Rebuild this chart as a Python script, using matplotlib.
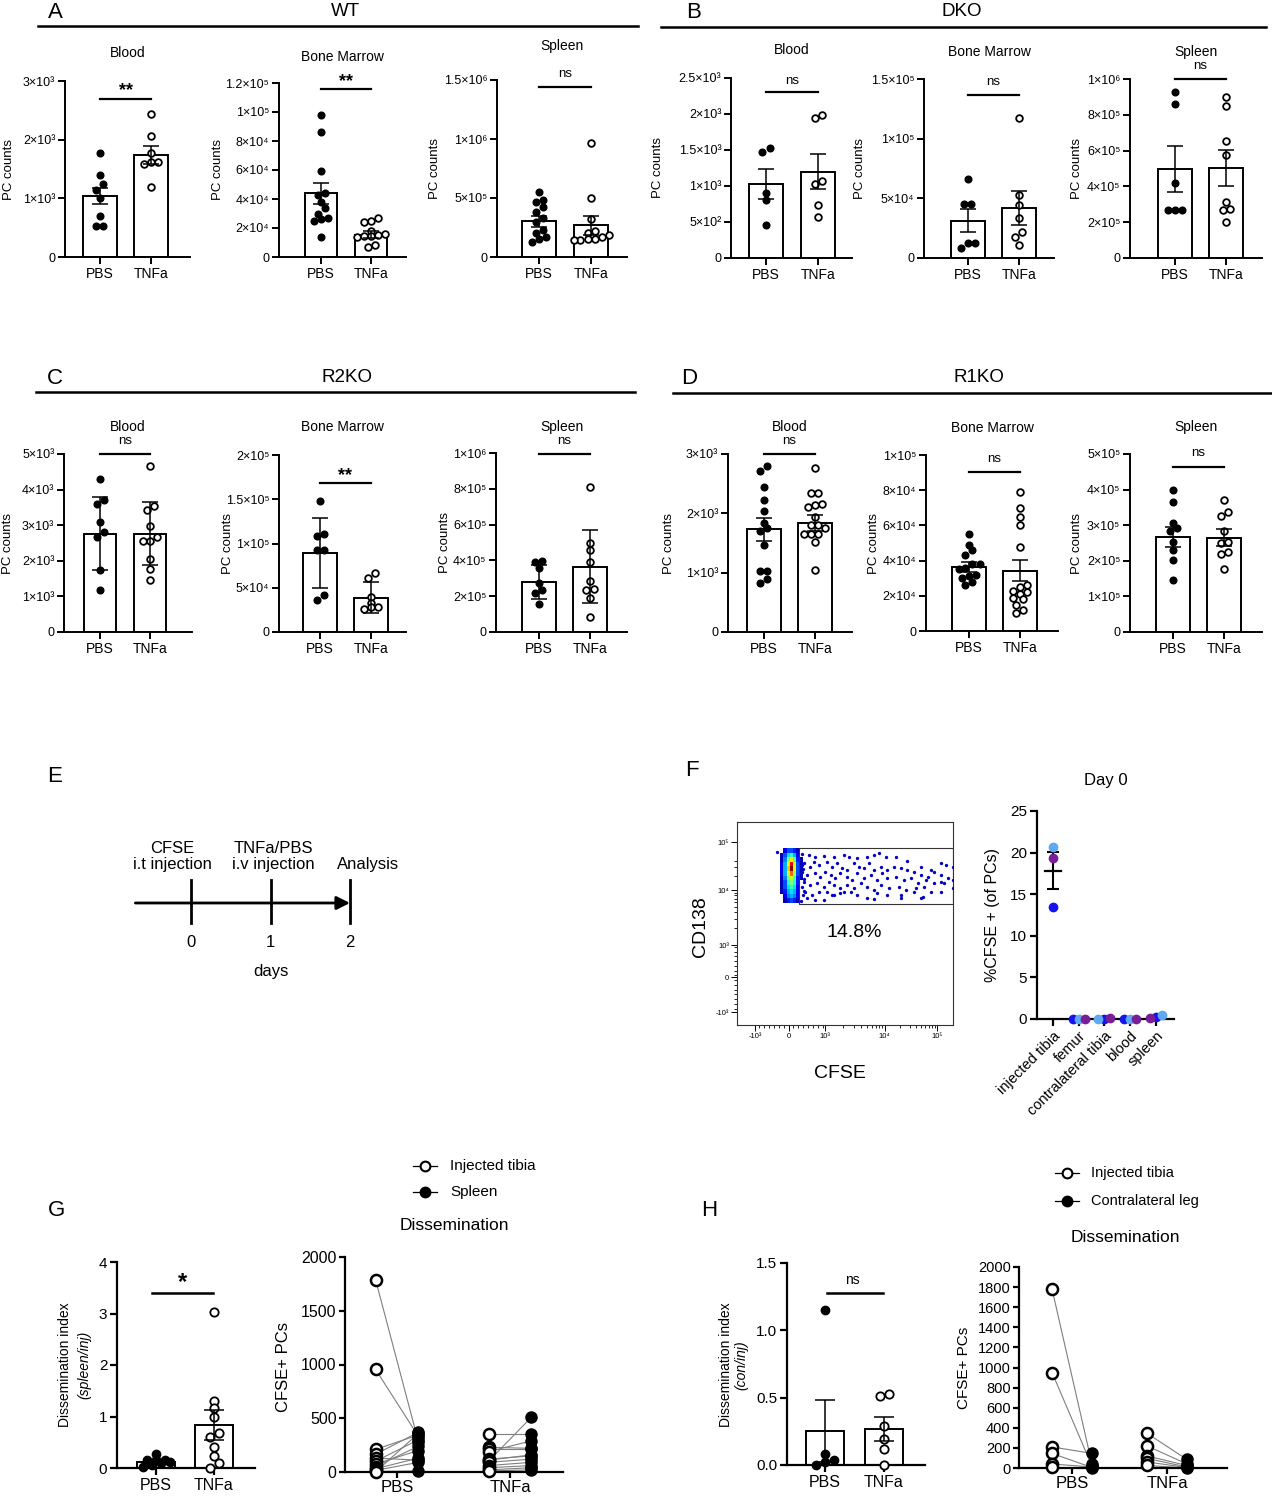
import numpy as np
import matplotlib.pyplot as plt
from matplotlib.lines import Line2D
from matplotlib.patches import Rectangle

plt.rcParams['font.family'] = ['Liberation Sans', 'DejaVu Sans']

# ---------------- data ----------------
# A  WT
wt_blood_pbs = [1770, 1400, 1250, 1150, 1000, 700, 530, 520]
wt_blood_tnf = [2430, 2060, 1780, 1620, 1620, 1580, 1190]
wt_blood_mean = [1040, 1740]
wt_blood_err = [140, 160]
wt_bm_pbs = [98000, 86000, 59000, 44000, 43000, 38000, 34000, 30000, 27000, 26000, 25000, 14000]
wt_bm_tnf = [26800, 25000, 23800, 18000, 16000, 15000, 14200, 14200, 13500, 8500, 7000]
wt_bm_mean = [44000, 15500]
wt_bm_err = [7300, 2500]
wt_spl_pbs = [547000, 485000, 470000, 420000, 380000, 330000, 300000, 230000, 200000, 170000, 155000, 130000]
wt_spl_tnf = [970000, 500000, 320000, 220000, 200000, 190000, 170000, 155000, 150000, 145000, 140000]
wt_spl_mean = [302000, 268000]
wt_spl_err = [45000, 80000]

# B  DKO
dko_blood_pbs = [1530, 1470, 900, 810, 460]
dko_blood_tnf = [1940, 1980, 1065, 1030, 730, 565]
dko_blood_mean = [1030, 1200]
dko_blood_err = [210, 245]
dko_bm_pbs = [66000, 45500, 45500, 12500, 12500, 8400]
dko_bm_tnf = [117000, 53000, 44600, 33500, 21500, 17500, 11000]
dko_bm_mean = [31200, 41800]
dko_bm_err = [9700, 14000]
dko_spl_pbs = [930000, 860000, 420000, 270000, 270000, 270000]
dko_spl_tnf = [900000, 850000, 655000, 575000, 312000, 275000, 266000, 200000]
dko_spl_mean = [496000, 502000]
dko_spl_err = [128000, 100000]

# C  R2KO
r2_blood_pbs = [4300, 3700, 3600, 3100, 2800, 2670, 1730, 1190]
r2_blood_tnf = [4660, 3540, 3440, 2980, 2670, 2560, 2560, 2060, 1780, 1470]
r2_blood_mean = [2760, 2760]
r2_blood_err = [1030, 890]
r2_bm_pbs = [148000, 111000, 108700, 93200, 93200, 41500, 35800]
r2_bm_tnf = [67000, 61000, 40000, 33000, 28000, 28000, 26000]
r2_bm_mean = [89400, 38900]
r2_bm_err = [39600, 17500]
r2_spl_pbs = [395000, 390000, 355000, 271000, 234000, 220000, 155000]
r2_spl_tnf = [810000, 500000, 458000, 392000, 284000, 243000, 234000, 190000, 84000]
r2_spl_mean = [280000, 365000]
r2_spl_err = [93500, 204000]

# D  R1KO
r1_blood_pbs = [2800, 2710, 2450, 2220, 2040, 1840, 1745, 1705, 1460, 1030, 1030, 900, 820]
r1_blood_tnf = [2770, 2340, 2340, 2140, 2110, 2160, 1940, 1800, 1745, 1800, 1660, 1650, 1660, 1520, 1050]
r1_blood_mean = [1728, 1830]
r1_blood_err = [195, 135]
r1_bm_pbs = [55000, 49000, 46000, 43000, 38000, 38000, 36000, 35000, 32000, 31000, 30000, 28000, 26000]
r1_bm_tnf = [79000, 70000, 65000, 60500, 48000, 26000, 25000, 23000, 22000, 21000, 19000, 18000, 15000, 12000, 10000]
r1_bm_mean = [36400, 34200]
r1_bm_err = [3000, 6000]
r1_spl_pbs = [399000, 364000, 305000, 292000, 285000, 253000, 230000, 203000, 145000]
r1_spl_tnf = [370000, 338000, 325000, 283000, 253000, 250000, 225000, 218000, 176000]
r1_spl_mean = [268000, 265000]
r1_spl_err = [28000, 23000]

# E  timeline
event_days = [0, 1, 2]
event_labels = ['CFSE\ni.t injection', 'TNFa/PBS\ni.v injection', 'Analysis']

# F  flow plot (channel units 0-1000), gate and day-0 distribution
flow_xticks = [84, 242, 409, 684, 926]
flow_yticks = [64, 236, 394, 665, 901]
flow_ticklabels = ['-10³', '0', '10³', '10⁴', '10⁵']
flow_x = [184, 332, 363, 402, 448, 495, 518, 557, 603, 634, 657, 688, 735, 789, 851, 898, 944, 967, 998,
          309, 340, 355, 378, 417, 440, 464, 487, 510, 541, 564, 588, 611, 634, 665, 696, 727, 758, 789, 820,
          851, 882, 913, 944, 975,
          301, 324, 363, 386, 409, 433, 456, 479, 510, 533, 557, 588, 619, 650, 673, 696, 735, 774, 805, 836,
          874, 913, 944, 998,
          309, 340, 371, 402, 425, 448, 479, 510, 541, 572, 603, 634, 665, 704, 750, 781, 828, 867, 898, 960, 998,
          316, 347, 378, 417, 448, 495, 526, 557, 603, 650, 696, 758, 820, 859, 944,
          324, 363, 402, 440, 479, 634, 758, 851,
          300, 305, 310, 300, 305, 295, 300, 295, 310]
flow_y = [854, 837, 826, 833, 829, 837, 829, 821, 829, 837, 846, 829, 829, 810, 780, 764, 796, 788, 780,
          796, 780, 805, 788, 805, 780, 796, 772, 764, 796, 780, 772, 796, 764, 780, 764, 780, 772, 764, 755,
          739, 731, 755, 739, 722,
          755, 739, 747, 731, 755, 739, 722, 747, 731, 714, 747, 722, 739, 714, 747, 722, 731, 714, 722, 698,
          714, 698, 706, 714,
          706, 690, 698, 681, 706, 690, 673, 690, 673, 698, 681, 665, 690, 673, 681, 665, 673, 681, 657, 698, 673,
          657, 640, 657, 657, 640, 657, 657, 640, 624, 649, 640, 624, 657, 632, 657,
          624, 616, 616, 640, 652, 621, 640, 624,
          790, 770, 720, 680, 640, 610, 840, 750, 660]
# density of the dense population, rows bottom -> top
flow_density = [
    [0, .05, .15, .2, .15, .05, 0],
    [0, .1, .25, .3, .25, .1, 0],
    [.05, .15, .3, .35, .3, .1, 0],
    [.05, .2, .35, .4, .35, .1, 0],
    [.05, .2, .4, .5, .4, .15, 0],
    [.05, .25, .5, .6, .45, .15, .05],
    [.1, .3, .6, .8, .55, .2, .05],
    [.1, .3, .7, 1.0, .65, .2, .05],
    [.1, .3, .65, .9, .6, .2, .05],
    [.05, .25, .5, .65, .45, .15, .05],
    [.05, .2, .35, .4, .3, .1, 0],
    [0, .1, .2, .2, .15, .05, 0],
]
gate_pct = '14.8%'

day0_cats = ['injected tibia', 'femur', 'contralateral tibia', 'blood', 'spleen']
day0_blue = [13.5, 0.05, 0.05, 0.03, 0.2]
day0_light = [20.7, 0.05, 0.03, 0.05, 0.5]
day0_purple = [19.3, 0.05, 0.1, 0.06, 0.1]

# G  dissemination to spleen
g_idx_pbs = [0.28, 0.16, 0.15, 0.15, 0.12, 0.1, 0.05, 0.02]
g_idx_tnf = [3.02, 1.31, 1.17, 0.99, 0.68, 0.61, 0.41, 0.23, 0.1, 0.0]
g_idx_mean = [0.11, 0.84]
g_idx_err = [0.03, 0.29]
g_pbs_inj = [1790, 955, 210, 165, 130, 100, 75, 50, 30, 15, 5, 0]
g_pbs_spl = [280, 330, 345, 370, 110, 300, 200, 240, 130, 90, 10, 360]
g_tnf_inj = [350, 230, 210, 190, 120, 110, 100, 90, 60, 40, 20, 10]
g_tnf_spl = [350, 220, 210, 290, 150, 160, 510, 120, 90, 60, 40, 20]

# H  dissemination to contralateral leg
h_idx_pbs = [1.15, 0.08, 0.04, 0.02, 0.0]
h_idx_tnf = [0.53, 0.51, 0.29, 0.19, 0.12, 0.0]
h_idx_mean = [0.255, 0.27]
h_idx_err = [0.23, 0.09]
h_pbs_inj = [1780, 950, 210, 145, 40, 5]
h_pbs_con = [40, 20, 145, 5, 10, 0]
h_tnf_inj = [345, 220, 120, 95, 60, 25]
h_tnf_con = [85, 40, 25, 10, 5, 0]

# ---------------- helpers ----------------
W, H = 1272, 1500
fig = plt.figure(figsize=(W / 100, H / 100), dpi=100)


def rect(l, t, r, b):
    return [l / W, 1 - b / H, (r - l) / W, (b - t) / H]


def ftext(x, y, s, ha='center', va='center', **kw):
    fig.text(x / W, 1 - y / H, s, ha=ha, va=va, **kw)


def fline(x0, x1, y0, y1, lw=1.5, color='black'):
    fig.add_artist(Line2D([x0 / W, x1 / W], [1 - y0 / H, 1 - y1 / H], color=color, lw=lw))


SUP = str.maketrans('0123456789-', '⁰¹²³⁴⁵⁶⁷⁸⁹⁻')


def sci(v, pos=None):
    if v == 0:
        return '0'
    e = int(np.floor(np.log10(v) + 1e-9))
    m = round(v / 10 ** e, 2)
    return f'{m:g}×10{str(e).translate(SUP)}'


def prism(ax, lw=1.4, size=9, length=5):
    for s in ['top', 'right']:
        ax.spines[s].set_visible(False)
    for s in ['left', 'bottom']:
        ax.spines[s].set_linewidth(lw)
    ax.tick_params(width=lw, length=length, direction='out', labelsize=size, pad=2)


def swarm_x(ax, xc, vals, step=7, gap=6):
    t = ax.transData
    vals = np.asarray(vals, float)
    ypx = t.transform(np.c_[np.full(len(vals), xc), vals])[:, 1]
    xc_px = t.transform([[xc, 0]])[0, 0]
    order = np.argsort(ypx, kind='stable')
    rows, cur = [], [order[0]]
    for i in order[1:]:
        if ypx[i] - ypx[cur[0]] < gap:
            cur.append(i)
        else:
            rows.append(cur)
            cur = [i]
    rows.append(cur)
    xpx = np.zeros(len(vals))
    for r in rows:
        for j, i in enumerate(r):
            xpx[i] = xc_px + (j - (len(r) - 1) / 2) * step
    return t.inverted().transform(np.c_[xpx, ypx])[:, 0]


def bars(ax, pbs, tnf, mean, err, ms=4.8, capsize=5.5, step=7):
    ax.bar([0, 1], mean, width=0.65, color='white', edgecolor='black', linewidth=1.4, zorder=1)
    ax.errorbar([0, 1], mean, yerr=err, fmt='none', ecolor='black', elinewidth=1.1,
                capsize=capsize, capthick=1.1, zorder=4)
    ax.plot(swarm_x(ax, 0, pbs, step=step), pbs, 'o', ms=ms, color='black', zorder=3, clip_on=False)
    ax.plot(swarm_x(ax, 1, tnf, step=step), tnf, 'o', ms=ms, mfc='white', mec='black', mew=1.3,
            zorder=3, clip_on=False)


def count_panel(geo, pbs, tnf, mean, err, ymax, ystep, title, ty, sig, sy, ly, labx):
    ax_x, xp, xt, right, top, bottom = geo
    ax = fig.add_axes(rect(ax_x, top, right, bottom))
    u = xt - xp
    ax.set_xlim((ax_x - xp) / u, (right - xp) / u)
    ax.set_ylim(0, ymax)
    prism(ax)
    ax.set_yticks(np.arange(0, ymax + ystep / 2, ystep))
    ax.yaxis.set_major_formatter(plt.FuncFormatter(sci))
    ax.set_xticks([0, 1], ['PBS', 'TNFa'], fontsize=10)
    bars(ax, pbs, tnf, mean, err)
    ftext(labx, (top + bottom) / 2, 'PC counts', rotation=90, fontsize=9.5)
    ftext((ax_x + right) / 2, ty, title, fontsize=10)
    if sig == 'ns':
        ftext((xp + xt) / 2, sy, sig, fontsize=9.5)
    else:
        ftext((xp + xt) / 2, sy + 3, sig, fontsize=13, fontweight='bold')
    fline(xp, xt, ly, ly, lw=1.6)


def header(letter, lx, name, nx, y, ly, x0, x1):
    ftext(lx, y, letter, fontsize=16)
    ftext(nx, y, name, fontsize=13.5)
    fline(x0, x1, ly, ly, lw=1.8)


# ---------------- A-D ----------------
header('A', 55, 'WT', 345, 12, 26, 38, 638)
header('B', 694, 'DKO', 962, 12, 27, 661, 1266)
header('C', 55, 'R2KO', 347, 378, 392, 36, 635)
header('D', 689, 'R1KO', 979, 378, 393, 673, 1272)

count_panel((65, 100, 151, 190, 81, 257), wt_blood_pbs, wt_blood_tnf, wt_blood_mean, wt_blood_err,
            3e3, 1e3, 'Blood', 53, '**', 88, 99, 9)
count_panel((279, 321, 371, 406, 83, 257), wt_bm_pbs, wt_bm_tnf, wt_bm_mean, wt_bm_err,
            1.2e5, 2e4, 'Bone Marrow', 57, '**', 79, 89, 218)
count_panel((497, 539, 591, 627, 80, 257), wt_spl_pbs, wt_spl_tnf, wt_spl_mean, wt_spl_err,
            1.5e6, 5e5, 'Spleen', 46, 'ns', 74, 87, 435)

count_panel((731, 766, 818, 852, 78, 258), dko_blood_pbs, dko_blood_tnf, dko_blood_mean, dko_blood_err,
            2.5e3, 5e2, 'Blood', 50, 'ns', 81, 92, 658)
count_panel((924, 968, 1019, 1054, 79, 258), dko_bm_pbs, dko_bm_tnf, dko_bm_mean, dko_bm_err,
            1.5e5, 5e4, 'Bone Marrow', 52, 'ns', 82, 95, 860)
count_panel((1130, 1175, 1226, 1262, 79, 258), dko_spl_pbs, dko_spl_tnf, dko_spl_mean, dko_spl_err,
            1e6, 2e5, 'Spleen', 52, 'ns', 66, 79, 1077)

count_panel((64, 100, 150, 192, 454, 632), r2_blood_pbs, r2_blood_tnf, r2_blood_mean, r2_blood_err,
            5e3, 1e3, 'Blood', 427, 'ns', 441, 454, 8)
count_panel((279, 320, 371, 406, 455, 632), r2_bm_pbs, r2_bm_tnf, r2_bm_mean, r2_bm_err,
            2e5, 5e4, 'Bone Marrow', 427, '**', 473, 483, 228)
count_panel((496, 539, 590, 627, 453, 632), r2_spl_pbs, r2_spl_tnf, r2_spl_mean, r2_spl_err,
            1e6, 2e5, 'Spleen', 427, 'ns', 441, 454, 445)

count_panel((728, 764, 815, 852, 454, 632), r1_blood_pbs, r1_blood_tnf, r1_blood_mean, r1_blood_err,
            3e3, 1e3, 'Blood', 427, 'ns', 441, 454, 669)
count_panel((926, 969, 1020, 1058, 455, 631), r1_bm_pbs, r1_bm_tnf, r1_bm_mean, r1_bm_err,
            1e5, 2e4, 'Bone Marrow', 428, 'ns', 459, 472, 874)
count_panel((1130, 1173, 1224, 1262, 454, 632), r1_spl_pbs, r1_spl_tnf, r1_spl_mean, r1_spl_err,
            5e5, 1e5, 'Spleen', 427, 'ns', 453, 467, 1077)

# ---------------- E timeline ----------------
ftext(55, 776, 'E', fontsize=16)
ax = fig.add_axes(rect(100, 820, 430, 1000))
ax.set_xlim((100 - 191) / 79.5, (430 - 191) / 79.5)
ax.set_ylim(1000, 820)
ax.axis('off')
ax.annotate('', xy=(event_days[-1], 903), xytext=(-0.7, 903),
            arrowprops=dict(arrowstyle='-|>', lw=2, color='black', mutation_scale=20, shrinkA=0, shrinkB=0))
label_shift = [-0.23, 0.04, 0.23]
for d, lab, sh in zip(event_days, event_labels, label_shift):
    ax.plot([d, d], [880, 923], color='black', lw=2)
    ax.text(d, 943, str(d), ha='center', va='center', fontsize=12)
    ax.text(d + sh, 872, lab, ha='center', va='bottom', fontsize=12, linespacing=1.1)
ax.text(1, 972, 'days', ha='center', va='center', fontsize=12)

# ---------------- F flow plot ----------------
ftext(692, 770, 'F', fontsize=16)
ax = fig.add_axes(rect(737, 822, 953, 1025))
ax.set_xlim(0, 1000)
ax.set_ylim(0, 1000)
for s in ax.spines.values():
    s.set_linewidth(0.8)
    s.set_color('#333333')
dens = np.ma.masked_less(np.array(flow_density), 0.03)
ax.imshow(dens, cmap='jet', vmin=0, vmax=1, extent=(198, 302, 600, 870), origin='lower',
          aspect='auto', interpolation='nearest', zorder=2)
ax.plot(flow_x, flow_y, 'o', ms=2.4, mew=0, color='#0000c8', zorder=3)
ax.add_patch(Rectangle((288, 596), 712, 276, fill=False, lw=0.8, edgecolor='#333333', zorder=4))
ax.text(544, 458, gate_pct, ha='center', va='center', fontsize=14)
ax.set_xticks(flow_xticks, flow_ticklabels)
ax.set_yticks(flow_yticks, flow_ticklabels)
k = np.arange(2, 10)
ax.set_xticks(list(409 + 275 * np.log10(k)) + list(684 + 242 * np.log10(k)) + list(np.linspace(100, 400, 14)),
              minor=True)
ax.set_yticks(list(394 + 271 * np.log10(k)) + list(665 + 236 * np.log10(k[:3])) + list(np.linspace(80, 385, 14)),
              minor=True)
ax.tick_params(which='major', length=4, width=0.7, labelsize=5.5, pad=1.5)
ax.tick_params(which='minor', length=2, width=0.6)
ftext(701, 927, 'CD138', rotation=90, fontsize=14)
ftext(840, 1073, 'CFSE', fontsize=14)

# F day 0 distribution
ax = fig.add_axes(rect(1037, 811, 1174, 1019))
ax.set_xlim(-0.62, 4.7)
ax.set_ylim(0, 25)
prism(ax, lw=1.6, size=11)
ax.set_yticks(range(0, 26, 5))
ax.set_xticks(range(5))
ax.set_xticklabels(day0_cats, rotation=45, ha='right', rotation_mode='anchor', fontsize=10.5)
vals = np.array([day0_blue, day0_light, day0_purple])
cols = ['#1414ee', '#5fa8f2', '#7a1e96']
for i in range(5):
    v = vals[:, i]
    m = v.mean()
    se = v.std(ddof=1) / np.sqrt(len(v))
    ax.plot([i - 0.3, i + 0.3], [m, m], color='black', lw=1.6, zorder=2)
    ax.errorbar([i], [m], yerr=[se], fmt='none', ecolor='black', elinewidth=1.5, capsize=4, capthick=1.5, zorder=2)
    xs = swarm_x(ax, i, v, step=6, gap=6)
    for x, y, c in zip(xs, v, cols):
        ax.plot(x, y, 'o', ms=6, color=c, zorder=3, clip_on=False)
ftext(1106, 780, 'Day 0', fontsize=12)
ftext(993, 915, '%CFSE + (of PCs)', rotation=90, fontsize=11.5)


# ---------------- G / H ----------------
def index_panel(l, t, r, b, xp, xt, pbs, tnf, mean, err, ymax, ticks, fmt):
    ax = fig.add_axes(rect(l, t, r, b))
    u = xt - xp
    ax.set_xlim((l - xp) / u, (r - xp) / u)
    ax.set_ylim(0, ymax)
    prism(ax, lw=1.6, size=11)
    ax.set_yticks(ticks)
    ax.yaxis.set_major_formatter(plt.FormatStrFormatter(fmt))
    ax.set_xticks([0, 1], ['PBS', 'TNFa'], fontsize=11.5)
    bars(ax, pbs, tnf, mean, err, ms=6, capsize=7, step=9)
    return ax


def paired_panel(l, t, r, b, xp, xt, off, pbs_a, pbs_b, tnf_a, tnf_b, tstep, size):
    ax = fig.add_axes(rect(l, t, r, b))
    u = xt - xp
    ax.set_xlim((l - xp) / u, (r - xp) / u)
    ax.set_ylim(0, 2000)
    prism(ax, lw=1.6, size=size, length=4)
    ax.set_yticks(np.arange(0, 2001, tstep))
    ax.set_xticks([0, 1], ['PBS', 'TNFa'], fontsize=12)
    for xc, a, bb in [(0, pbs_a, pbs_b), (1, tnf_a, tnf_b)]:
        for y0, y1 in zip(a, bb):
            ax.plot([xc - off, xc + off], [y0, y1], color='#7f7f7f', lw=0.8, zorder=1)
        ax.plot(np.full(len(a), xc - off), a, 'o', ms=8, mfc='white', mec='black', mew=1.8,
                zorder=3, clip_on=False)
        ax.plot(np.full(len(bb), xc + off), bb, 'o', ms=8, color='black', zorder=3, clip_on=False)
    return ax


def legend_rows(x, ys, labels, tx, size):
    for y, lab, filled in zip(ys, labels, [False, True]):
        fline(x - 12, x + 12, y, y, lw=0.9)
        fig.add_artist(Line2D([x / W], [1 - y / H], marker='o', ms=7, mec='black', mew=1.5,
                              mfc='black' if filled else 'white', ls='none'))
        ftext(tx, y, lab, ha='left', fontsize=size)


ftext(57, 1210, 'G', fontsize=16)
index_panel(117, 1262, 255, 1468, 156, 214, g_idx_pbs, g_idx_tnf, g_idx_mean, g_idx_err,
            4, [0, 1, 2, 3, 4], '%d')
ftext(65, 1365, 'Dissemination index', rotation=90, fontsize=10)
ftext(84, 1365, '(spleen/inj)', rotation=90, fontsize=10, fontstyle='italic')
ftext(183, 1283, '*', fontsize=17, fontweight='bold')
fline(152, 213, 1293, 1293, lw=1.8)

paired_panel(345, 1257, 563, 1472, 397, 510, 0.19, g_pbs_inj, g_pbs_spl, g_tnf_inj, g_tnf_spl, 500, 11.5)
ftext(283, 1367, 'CFSE+ PCs', rotation=90, fontsize=12)
ftext(454, 1225, 'Dissemination', fontsize=12.5)
legend_rows(425, [1166, 1192], ['Injected tibia', 'Spleen'], 450, 11)

ftext(709, 1210, 'H', fontsize=16)
index_panel(787, 1263, 925, 1465, 825, 884, h_idx_pbs, h_idx_tnf, h_idx_mean, h_idx_err,
            1.5, [0, 0.5, 1.0, 1.5], '%.1f')
ftext(726, 1365, 'Dissemination index', rotation=90, fontsize=10)
ftext(741, 1365, '(con/inj)', rotation=90, fontsize=10, fontstyle='italic')
ftext(852, 1280, 'ns', fontsize=10)
fline(827, 883, 1293, 1293, lw=1.8)

paired_panel(1019, 1267, 1227, 1468, 1072, 1167, 0.21, h_pbs_inj, h_pbs_con, h_tnf_inj, h_tnf_con, 200, 10.5)
ftext(964, 1368, 'CFSE+ PCs', rotation=90, fontsize=11)
ftext(1125, 1237, 'Dissemination', fontsize=12.5)
legend_rows(1067, [1173, 1201], ['Injected tibia', 'Contralateral leg'], 1091, 10.5)

fig.savefig('out.png', dpi=100)
